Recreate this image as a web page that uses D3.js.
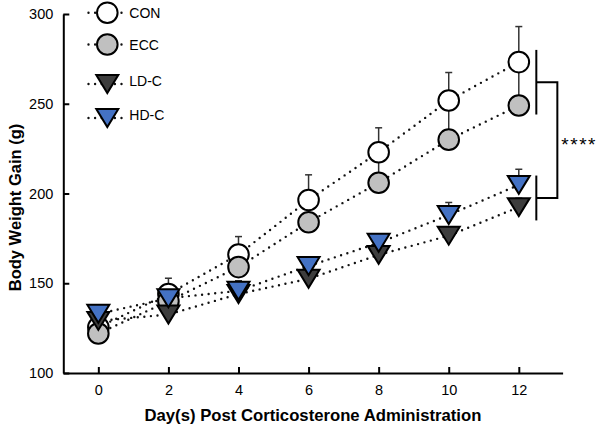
<!DOCTYPE html>
<html>
<head>
<meta charset="utf-8">
<script src="https://cdn.jsdelivr.net/npm/d3@7"></script>
<style>
  body { margin: 0; background: #fff; }
  svg { display: block; }
  text { font-family: "Liberation Sans", Arial, sans-serif; }
</style>
</head>
<body>
<svg id="chart" width="597" height="426"></svg>
<script>
// ---- data ----
const days = [0, 2, 4, 6, 8, 10, 12];
const seriesNames = ["CON", "ECC", "LD-C", "HD-C"];
const conMean = [125.5, 144, 166, 196.4, 223, 251.8, 273.2];
const conErr  = [3, 8.8, 10, 14, 13.6, 15.6, 19.8];
const eccMean = [122, 140, 159, 184, 206, 230, 249];
const eccErr  = [4, 5, 7, 12, 15, 17, 19];
const ldcMean = [129, 132.6, 144, 152.5, 165.8, 176.5, 192.4];
const ldcErr  = [3, 3, 3, 3, 4, 4, 5];
const hdcMean = [133, 141.6, 145.8, 159.6, 172.5, 188, 204.8];
const hdcErr  = [3, 3, 5.6, 4, 4, 7, 8.7];
const yTicks = [100, 150, 200, 250, 300];
const xTicks = [0, 2, 4, 6, 8, 10, 12];
const bracketGroups = [[244, 280], [185, 210]];
const bracketX = [12.5, 13.1];
const sigLabel = "****";

const styles = {
  "CON":  { shape: "circle",   fill: "#ffffff" },
  "ECC":  { shape: "circle",   fill: "#c0c0c0" },
  "LD-C": { shape: "triangle", fill: "#3d3d3d" },
  "HD-C": { shape: "triangle", fill: "#4472c4" }
};
const series = [
  { name: "CON",  mean: conMean, err: conErr },
  { name: "ECC",  mean: eccMean, err: eccErr },
  { name: "LD-C", mean: ldcMean, err: ldcErr },
  { name: "HD-C", mean: hdcMean, err: hdcErr }
];

// ---- scales ----
const svg = d3.select("#chart");
const x = d3.scaleLinear().domain([-1, 13.25]).range([63.3, 562.6]);
const y = d3.scaleLinear().domain([100, 300]).range([373, 14]);

// ---- axes ----
const xAxis = svg.append("g")
  .attr("transform", `translate(0,${y(100)})`)
  .call(d3.axisBottom(x).tickValues(xTicks).tickSizeInner(-6).tickSizeOuter(0).tickPadding(12));
const yAxis = svg.append("g")
  .attr("transform", `translate(${x(-1)},0)`)
  .call(d3.axisLeft(y).tickValues(yTicks).tickSizeInner(-6).tickSizeOuter(0).tickPadding(10));
[xAxis, yAxis].forEach(g => {
  g.select(".domain").attr("stroke", "#000").attr("stroke-width", 2);
  g.selectAll(".tick line").attr("stroke", "#000").attr("stroke-width", 2);
  g.selectAll(".tick text").attr("fill", "#000").style("font-size", "14.5px")
    .style("font-family", '"Liberation Sans", Arial, sans-serif');
});

svg.append("text")
  .attr("x", (x(-1) + x(13.25)) / 2)
  .attr("y", 421)
  .attr("text-anchor", "middle")
  .style("font-size", "16.7px").style("font-weight", "bold")
  .text("Day(s) Post Corticosterone Administration");

svg.append("text")
  .attr("transform", `translate(21,${(y(100) + y(300)) / 2 + 14}) rotate(-90)`)
  .attr("text-anchor", "middle")
  .style("font-size", "16.5px").style("font-weight", "bold")
  .text("Body Weight Gain (g)");

// ---- markers ----
const R = 10.3, TW = 22, TH = 18;
function drawMarker(g, name, cx, cy) {
  const st = styles[name];
  if (st.shape === "circle") {
    g.append("circle").attr("cx", cx).attr("cy", cy).attr("r", R)
      .attr("fill", st.fill).attr("stroke", "#000").attr("stroke-width", 2);
  } else {
    const p = d3.path();
    p.moveTo(cx - TW / 2, cy - TH / 2);
    p.lineTo(cx + TW / 2, cy - TH / 2);
    p.lineTo(cx, cy + TH / 2);
    p.closePath();
    g.append("path").attr("d", p.toString())
      .attr("fill", st.fill).attr("stroke", "#000").attr("stroke-width", 2)
      .attr("stroke-linejoin", "miter");
  }
}

const line = d3.line().x(d => x(d.day)).y(d => y(d.v));
const plot = svg.append("g");

// dotted lines
series.forEach(s => {
  const pts = days.map((d, i) => ({ day: d, v: s.mean[i] }));
  plot.append("path").attr("d", line(pts))
    .attr("fill", "none").attr("stroke", "#111").attr("stroke-width", 2.4)
    .attr("stroke-dasharray", "0,6.6").attr("stroke-linecap", "round");
});

// error bars (upper)
series.forEach(s => {
  days.forEach((d, i) => {
    const cx = x(d), y0 = y(s.mean[i]), y1 = y(s.mean[i] + s.err[i]);
    plot.append("line").attr("x1", cx).attr("x2", cx).attr("y1", y0).attr("y2", y1)
      .attr("stroke", "#333").attr("stroke-width", 1.5);
    plot.append("line").attr("x1", cx - 3.5).attr("x2", cx + 3.5).attr("y1", y1).attr("y2", y1)
      .attr("stroke", "#333").attr("stroke-width", 1.5);
  });
});

// symbols
series.forEach(s => {
  days.forEach((d, i) => drawMarker(plot, s.name, x(d), y(s.mean[i])));
});

// ---- significance bracket ----
const br = svg.append("g").attr("stroke", "#000").attr("stroke-width", 2).attr("fill", "none");
bracketGroups.forEach(gr => {
  br.append("line").attr("x1", x(bracketX[0])).attr("x2", x(bracketX[0]))
    .attr("y1", y(gr[1])).attr("y2", y(gr[0]));
});
const mids = bracketGroups.map(gr => (gr[0] + gr[1]) / 2);
br.append("path").attr("d",
  `M${x(bracketX[0])},${y(mids[0])}H${x(bracketX[1])}V${y(mids[1])}H${x(bracketX[0])}`);
svg.append("text")
  .attr("x", x(bracketX[1]) + 4)
  .attr("y", (y(mids[0]) + y(mids[1])) / 2 + 11)
  .style("font-size", "19px").style("letter-spacing", "1.5px")
  .text(sigLabel);

// ---- legend ----
const legendRows = [12.7, 44.5, 81, 115];
const legendMarkerShift = { "circle": 0, "triangle": 3 };
const leg = svg.append("g");
seriesNames.forEach((name, i) => {
  const ry = legendRows[i];
  const my = ry + legendMarkerShift[styles[name].shape];
  leg.append("line").attr("x1", 88.5).attr("x2", 122).attr("y1", my).attr("y2", my)
    .attr("stroke", "#111").attr("stroke-width", 2.4)
    .attr("stroke-dasharray", "0,6.6").attr("stroke-linecap", "round");
  drawMarker(leg, name, 107.3, my);
  leg.append("text").attr("x", 129.3).attr("y", ry).attr("dy", "0.36em")
    .style("font-size", "14px").text(name);
});
</script>
</body>
</html>
